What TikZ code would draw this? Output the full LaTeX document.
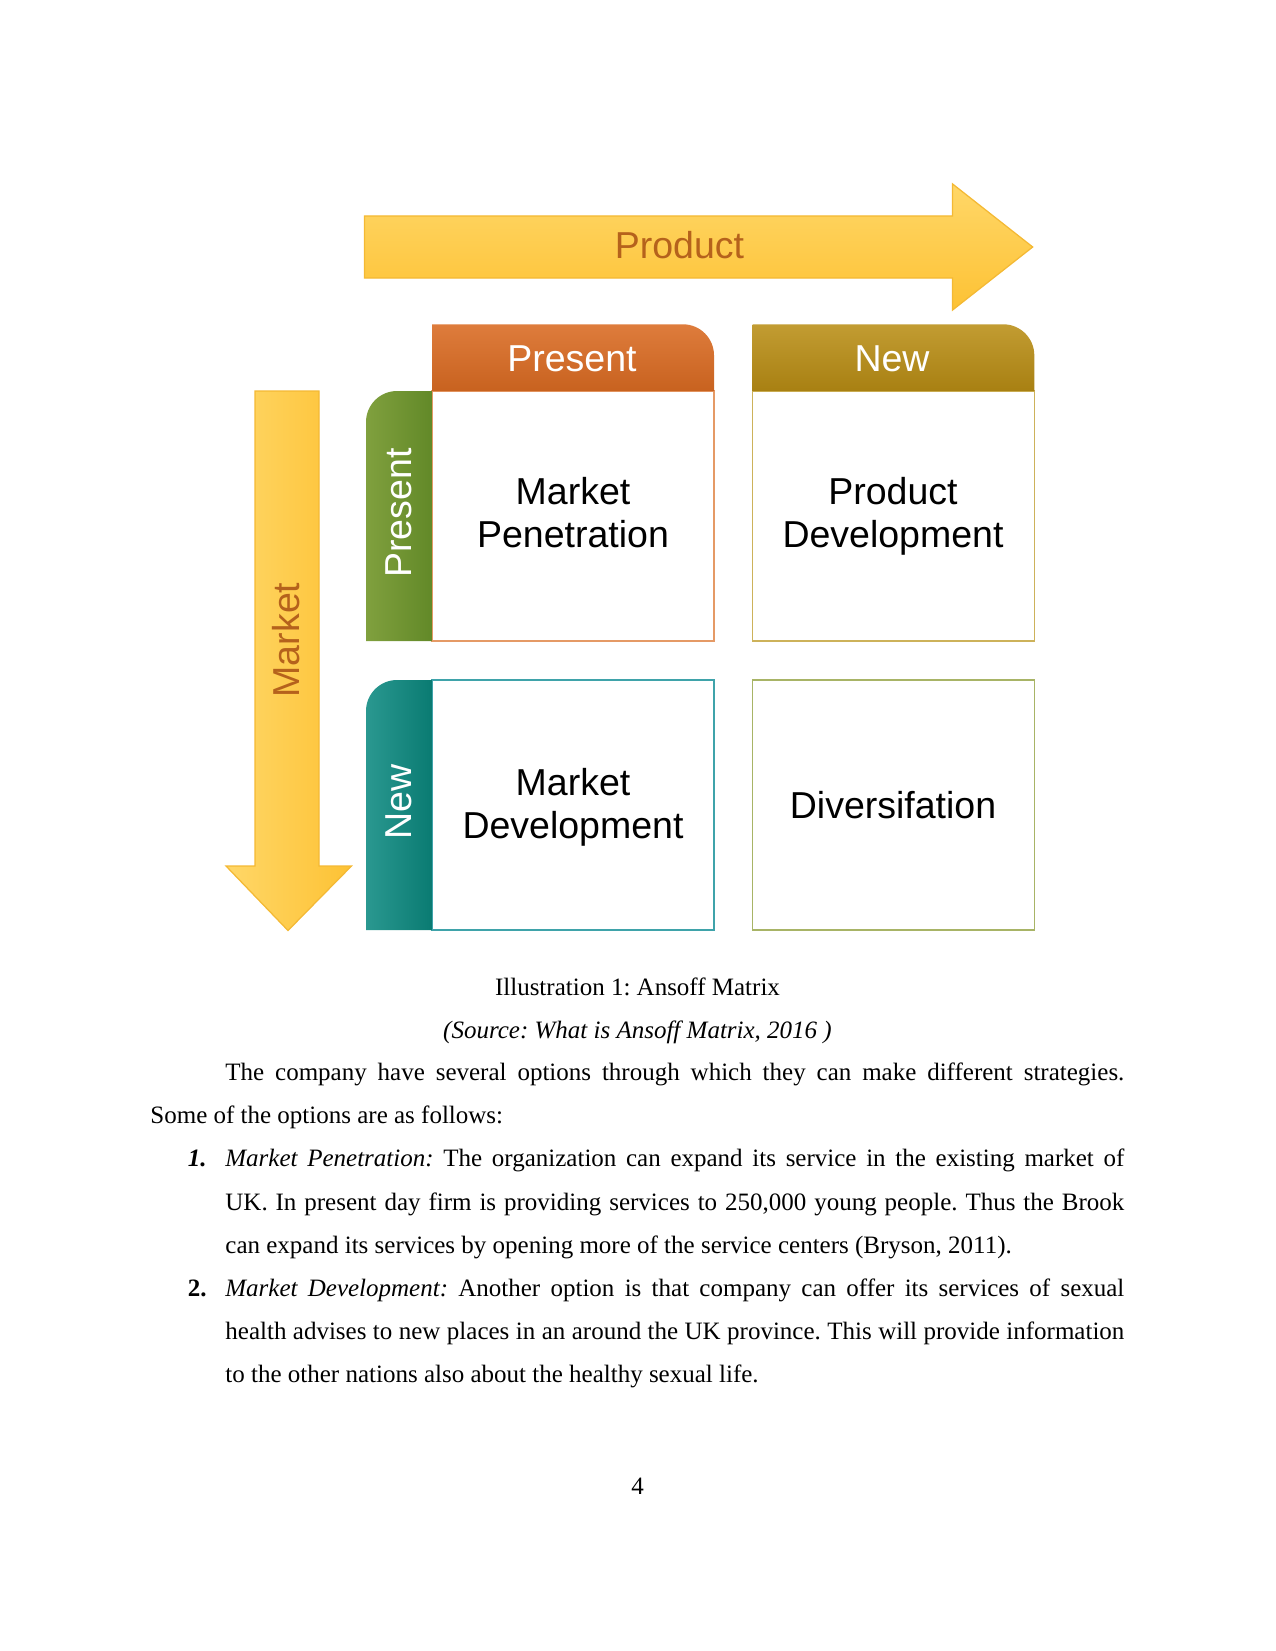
\documentclass[tikz,border=0pt]{standalone}
\usepackage{fontspec}
\setmainfont{Liberation Serif}
\newfontfamily\sansf{Liberation Sans}
\definecolor{arrowtxt}{RGB}{181,98,28}
\definecolor{arrowlight}{RGB}{255,215,104}
\definecolor{arrowdark}{RGB}{253,194,52}
\definecolor{arrowedge}{RGB}{244,185,52}
\definecolor{orangetop}{RGB}{222,124,60}
\definecolor{orangebot}{RGB}{200,98,31}
\definecolor{goldtop}{RGB}{194,156,50}
\definecolor{goldbot}{RGB}{168,128,18}
\definecolor{greenl}{RGB}{128,160,62}
\definecolor{greenr}{RGB}{98,137,40}
\definecolor{teall}{RGB}{42,152,144}
\definecolor{tealr}{RGB}{10,123,114}
\definecolor{mpedge}{RGB}{229,154,102}
\definecolor{pdedge}{RGB}{205,178,90}
\definecolor{mdedge}{RGB}{63,163,170}
\definecolor{dvedge}{RGB}{168,180,102}
\frenchspacing
\begin{document}
\frenchspacing
\begin{tikzpicture}[x=0.48pt,y=-0.48pt,
  diag/.style={font=\sansf\fontsize{18}{20.5}\selectfont, align=center, inner sep=0pt},
  body/.style={font=\fontsize{12}{14}\selectfont\frenchspacing, anchor=base west, inner sep=0pt},
  cbody/.style={font=\fontsize{12}{14}\selectfont\frenchspacing, anchor=base, inner sep=0pt},
  cellbox/.style={line width=0.75pt, fill=white}]
\useasboundingbox (0,0) rectangle (1275,1651);
% Product arrow
\shade[top color=arrowlight, bottom color=arrowdark, draw=arrowedge, line width=0.6pt]
  (364.6,216) -- (952.6,216) -- (952.6,184) -- (1032.7,247) -- (952.6,310) -- (952.6,278) -- (364.6,278) -- cycle;
\node[diag, text=arrowtxt, anchor=base] (prod) at (679.5,258) {Product};
% Market arrow
\shade[left color=arrowlight, right color=arrowdark, draw=arrowedge, line width=0.6pt]
  (255,391) -- (319,391) -- (319,866) -- (351.5,866) -- (288,930.5) -- (226,866) -- (255,866) -- cycle;
\node[diag, text=arrowtxt, anchor=base, rotate=90] (mkt) at (299,640) {Market};
% cell boxes
\draw[cellbox, draw=mpedge] (432,391) rectangle (714,641);
\draw[cellbox, draw=pdedge] (752.5,391) rectangle (1034.3,641);
\draw[cellbox, draw=mdedge] (432,680) rectangle (714,930);
\draw[cellbox, draw=dvedge] (752.5,680) rectangle (1034.3,930);
% headers
\shade[top color=orangetop, bottom color=orangebot]
  (432,391) -- (432,324.3) -- (683,324.3) .. controls (700.1,324.3) and (714,338.2) .. (714,355.3) -- (714,391) -- cycle;
\shade[top color=goldtop, bottom color=goldbot]
  (752.5,391) -- (752.5,324.3) -- (1003.3,324.3) .. controls (1020.4,324.3) and (1034.3,338.2) .. (1034.3,355.3) -- (1034.3,391) -- cycle;
\node[diag, text=white, anchor=base] (hpres) at (572,371) {Present};
\node[diag, text=white, anchor=base] (hnew) at (892,371) {New};
% side tabs
\shade[left color=greenl, right color=greenr]
  (432,391) -- (432,641) -- (366,641) -- (366,422) .. controls (366,404.9) and (379.9,391) .. (397,391) -- cycle;
\shade[left color=teall, right color=tealr]
  (432,680) -- (432,930) -- (366,930) -- (366,711) .. controls (366,693.9) and (379.9,680) .. (397,680) -- cycle;
\node[diag, text=white, anchor=base, rotate=90] (spres) at (411.7,513) {Present};
\node[diag, text=white, anchor=base, rotate=90] (snew) at (411.7,802) {New};
% cell texts (base anchor = baseline of the last line)
\node[diag, anchor=base] (mp) at (573,547.7) {Market\\Penetration};
\node[diag, anchor=base] (pd) at (893,547.7) {Product\\Development};
\node[diag, anchor=base] (md) at (573,838) {Market\\Development};
\node[diag, anchor=base] (dv) at (893,818.8) {Diversifation};
% caption
\node[cbody] (cap) at (637.5,995.7) {Illustration 1: Ansoff Matrix};
\node[cbody] (src) at (637.5,1038.5) {\textit{(Source: What is Ansoff Matrix, 2016 )}};
% body text
\node[body] (l1) at (225,1080.5) {\hbox to 431.5pt{The company have several options through which they can make different strategies.}};
\node[body] (l2) at (150,1123.7) {Some of the options are as follows:};
\node[body] (n1) at (187.5,1166.9) {\textbf{\textit{1.}}};
\node[body] (l3) at (225,1166.9) {\hbox to 431.5pt{\textit{Market Penetration:} The organization can expand its service in the existing market of}};
\node[body] (l4) at (225,1210.1) {\hbox to 431.5pt{UK. In present day firm is providing services to 250,000 young people. Thus the Brook}};
\node[body] (l5) at (225,1253.3) {can expand its services by opening more of the service centers (Bryson, 2011).};
\node[body] (n2) at (187.5,1296.5) {\textbf{2.}};
\node[body] (l6) at (225,1296.5) {\hbox to 431.5pt{\textit{Market Development:} Another option is that company can offer its services of sexual}};
\node[body] (l7) at (225,1339.7) {\hbox to 431.5pt{health advises to new places in an around the UK province. This will provide information}};
\node[body] (l8) at (225,1382.9) {to the other nations also about the healthy sexual life.};
\node[cbody] (pg) at (637.5,1494) {4};
\end{tikzpicture}
\end{document}
